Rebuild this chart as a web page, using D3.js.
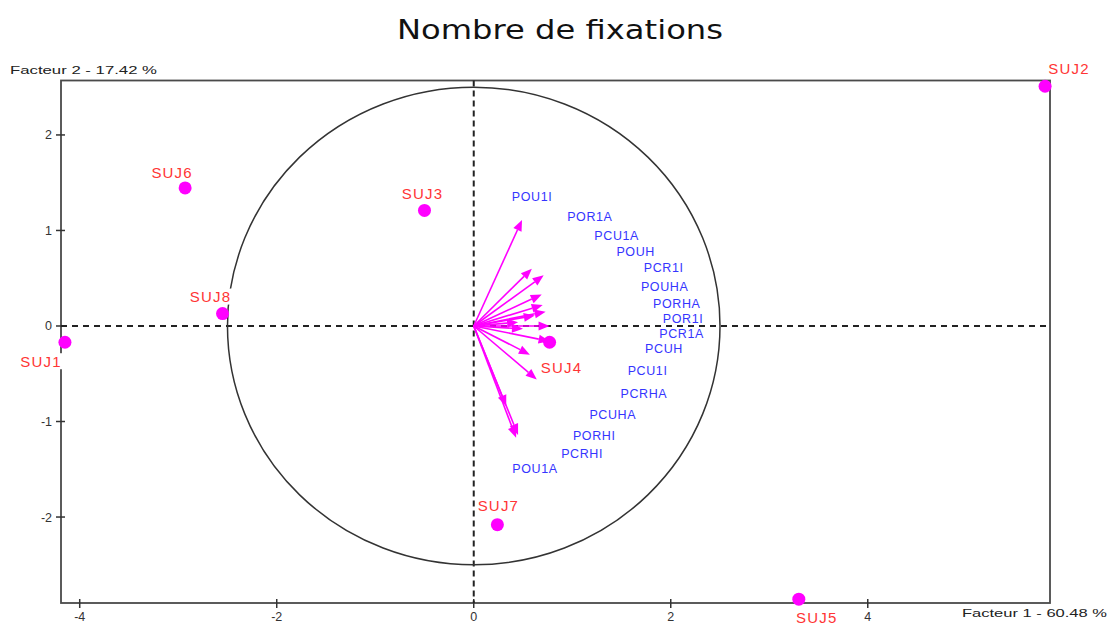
<!DOCTYPE html>
<html>
<head>
<meta charset="utf-8">
<script src="https://cdn.jsdelivr.net/npm/d3@7"></script>
<style>
  html, body { margin: 0; padding: 0; background: #fff; }
  svg { display: block; }
</style>
</head>
<body>
<div id="chart"></div>
<script>
// ---------- DATA ----------
const chartTitle = "Nombre de fixations";
const xAxisTitle = "Facteur 1  -  60.48 %";
const yAxisTitle = "Facteur 2  -  17.42 %";
const xTicks = [-4, -2, 0, 2, 4];
const yTicks = [-2, -1, 0, 1, 2];
const circleRadius = 2.5;

const subjects = ["SUJ1", "SUJ2", "SUJ3", "SUJ4", "SUJ5", "SUJ6", "SUJ7", "SUJ8"];
const subjF1 = [-4.15, 5.80, -0.50, 0.77, 3.30, -2.93, 0.24, -2.55];
const subjF2 = [-0.17, 2.51, 1.21, -0.17, -2.86, 1.445, -2.08, 0.13];

const variables = ["POU1I", "POR1A", "PCU1A", "POUH", "PCR1I", "POUHA", "PORHA", "POR1I",
                   "PCR1A", "PCUH", "PCU1I", "PCRHA", "PCUHA", "PORHI", "PCRHI", "POU1A"];
const varF1 = [0.49, 0.59, 0.71, 0.69, 0.70, 0.73, 0.62, 0.45, 0.77, 0.50, 0.77, 0.57, 0.64, 0.33, 0.43, 0.45];
const varF2 = [1.11, 0.60, 0.53, 0.33, 0.22, 0.15, 0.11, 0.04, 0.00, -0.03, -0.16, -0.30, -0.56, -0.84, -1.17, -1.14];

// ---------- LAYOUT (label placement, pixels relative to the mark) ----------
const subjLabelOffset = [[-24, 19], [24, -18], [-2, -17], [12, 25], [18, 18], [-13, -15], [1, -19], [-12, -17]];
const varLabelOffset = [[10, -23], [58, -52], [73, -40], [94, -43], [121, -37], [119, -25], [142, -12], [165, -4],
                        [132, 8], [141, 20], [98, 29], [114, 39], [76, 35], [88, 29], [66, 16], [17, 34]];

// ---------- CHART ----------
const W = 1110, H = 626;
const frame = { left: 61, right: 1050, top: 80.5, bottom: 603 };

const svg = d3.select("#chart").append("svg").attr("width", W).attr("height", H);

const x = d3.scaleLinear().domain([-4.19, 5.85]).range([frame.left, frame.right]);
const y = d3.scaleLinear().domain([-2.90, 2.57]).range([frame.bottom, frame.top]);

// Title
svg.append("text")
  .attr("x", 560).attr("y", 39)
  .attr("text-anchor", "middle")
  .attr("font-family", "'DejaVu Sans', sans-serif")
  .attr("font-size", 26)
  .attr("textLength", 326).attr("lengthAdjust", "spacingAndGlyphs")
  .attr("fill", "#111")
  .text(chartTitle);

// Frame
svg.append("rect")
  .attr("x", frame.left).attr("y", frame.top)
  .attr("width", frame.right - frame.left).attr("height", frame.bottom - frame.top)
  .attr("fill", "none").attr("stroke", "#4a4a4a").attr("stroke-width", 1.8);

// Ticks on frame
const tickFont = "'Liberation Sans', Arial, sans-serif";
svg.append("g").selectAll("line").data(xTicks).join("line")
  .attr("x1", d => x(d)).attr("x2", d => x(d))
  .attr("y1", frame.bottom - 4).attr("y2", frame.bottom + 5)
  .attr("stroke", "#333").attr("stroke-width", 1.5);
svg.append("g").selectAll("text").data(xTicks).join("text")
  .attr("x", d => x(d)).attr("y", frame.bottom + 18)
  .attr("text-anchor", "middle")
  .attr("font-family", tickFont).attr("font-size", 12.5).attr("fill", "#333")
  .text(d => d);

svg.append("g").selectAll("line").data(yTicks).join("line")
  .attr("y1", d => y(d)).attr("y2", d => y(d))
  .attr("x1", frame.left - 5).attr("x2", frame.left + 4)
  .attr("stroke", "#333").attr("stroke-width", 1.5);
svg.append("g").selectAll("text").data(yTicks).join("text")
  .attr("x", frame.left - 9).attr("y", d => y(d) + 4.5)
  .attr("text-anchor", "end")
  .attr("font-family", tickFont).attr("font-size", 12.5).attr("fill", "#333")
  .text(d => d);

// Axis titles
svg.append("text")
  .attr("x", 10).attr("y", 74)
  .attr("font-family", tickFont).attr("font-size", 11.5).attr("fill", "#222")
  .attr("textLength", 147).attr("lengthAdjust", "spacingAndGlyphs")
  .text(yAxisTitle);
svg.append("text")
  .attr("x", 962).attr("y", 617)
  .attr("font-family", tickFont).attr("font-size", 11.5).attr("fill", "#222")
  .attr("textLength", 145).attr("lengthAdjust", "spacingAndGlyphs")
  .text(xAxisTitle);

// Dashed zero axes
svg.append("line")
  .attr("x1", frame.left).attr("x2", frame.right)
  .attr("y1", y(0)).attr("y2", y(0))
  .attr("stroke", "#222").attr("stroke-width", 2).attr("stroke-dasharray", "6,5");
svg.append("line")
  .attr("x1", x(0)).attr("x2", x(0))
  .attr("y1", frame.top).attr("y2", frame.bottom)
  .attr("stroke", "#222").attr("stroke-width", 2).attr("stroke-dasharray", "6,4");

// Correlation circle
svg.append("ellipse")
  .attr("cx", x(0)).attr("cy", y(0))
  .attr("rx", x(circleRadius) - x(0)).attr("ry", y(0) - y(circleRadius))
  .attr("fill", "none").attr("stroke", "#333").attr("stroke-width", 1.5);

// Variable arrows
const varData = variables.map((v, i) => ({ name: v, f1: varF1[i], f2: varF2[i], off: varLabelOffset[i] }));
const arrowG = svg.append("g");
const ox = x(0), oy = y(0);
varData.forEach(d => {
  const tx = x(d.f1), ty = y(d.f2);
  const ang = Math.atan2(ty - oy, tx - ox);
  const L = 11, Wd = 4.5;
  const bx = tx - L * Math.cos(ang), by = ty - L * Math.sin(ang);
  arrowG.append("line")
    .attr("x1", ox).attr("y1", oy).attr("x2", bx).attr("y2", by)
    .attr("stroke", "#ff00ff").attr("stroke-width", 1.6);
  const p1 = [bx + Wd * Math.sin(ang), by - Wd * Math.cos(ang)];
  const p2 = [bx - Wd * Math.sin(ang), by + Wd * Math.cos(ang)];
  arrowG.append("path")
    .attr("d", `M${tx},${ty}L${p1[0]},${p1[1]}L${p2[0]},${p2[1]}Z`)
    .attr("fill", "#ff00ff");
});

// Variable labels
svg.append("g").selectAll("text").data(varData).join("text")
  .attr("x", d => x(d.f1) + d.off[0])
  .attr("y", d => y(d.f2) + d.off[1] + 4.5)
  .attr("text-anchor", "middle")
  .attr("font-family", tickFont).attr("font-size", 12.5)
  .attr("letter-spacing", 0.6)
  .attr("fill", "#3535ff")
  .text(d => d.name);

// Subject points
const subjData = subjects.map((s, i) => ({ name: s, f1: subjF1[i], f2: subjF2[i], off: subjLabelOffset[i] }));
svg.append("g").selectAll("circle").data(subjData).join("circle")
  .attr("cx", d => x(d.f1)).attr("cy", d => y(d.f2)).attr("r", 6.5)
  .attr("fill", "#ff00ff");

// Subject labels with white background
const sl = svg.append("g").selectAll("g").data(subjData).join("g")
  .attr("transform", d => `translate(${x(d.f1) + d.off[0]},${y(d.f2) + d.off[1]})`);
sl.append("rect")
  .attr("x", -23).attr("y", -8).attr("width", 46).attr("height", 16)
  .attr("fill", "#fff");
sl.append("text")
  .attr("y", 5.5)
  .attr("text-anchor", "middle")
  .attr("font-family", tickFont).attr("font-size", 15)
  .attr("letter-spacing", 1.2)
  .attr("fill", "#ff3535")
  .text(d => d.name);
</script>
</body>
</html>
